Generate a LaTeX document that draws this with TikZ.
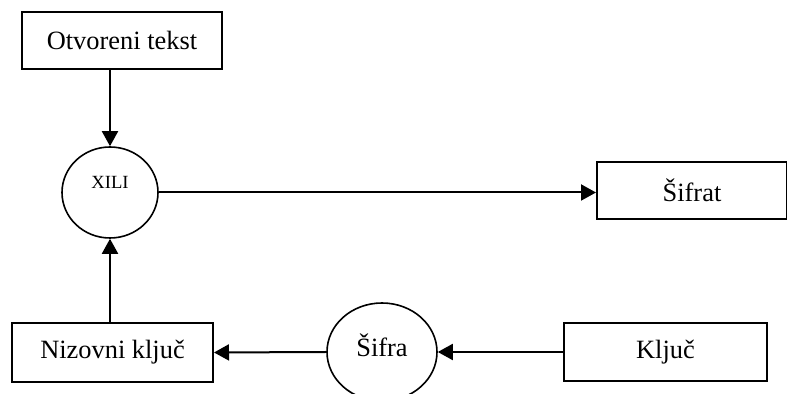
\documentclass[tikz,border=0pt]{standalone}
\usepackage{fontspec}
\setmainfont{Liberation Serif}
\usepackage{tikz}
\usetikzlibrary{arrows.meta,shapes,positioning}
\tikzstyle{arrow} = [line width=1pt,-{Triangle[length=7.5pt,width=8pt]}]
\tikzstyle{boxnode} = [rectangle, draw, line width=1pt, minimum height=28.5pt, text centered, font=\fontsize{13.2}{15}\selectfont]
\tikzstyle{opnode} = [ellipse, draw, line width=0.8pt, inner sep=0pt, text centered]

\begin{document}
\begin{tikzpicture}[x=0.5pt,y=-0.5pt]
\useasboundingbox (0,0) rectangle (787,394);
% Boxes
\node (otvoreni) [boxnode, minimum width=100pt] at (122,40.5) {Otvoreni tekst\hspace{4pt}};
\node (sifrat) [boxnode, minimum width=95pt] at (692,190.5) {Šifrat};
\node (kljuc) [boxnode, minimum width=101.5pt, minimum height=29pt] at (665.5,352) {Ključ};
\node (nizovni) [boxnode, minimum width=100.5pt, minimum height=29.5pt] at (112.5,352.5) {Nizovni ključ};

% Circles
\node (xili) [opnode, minimum width=48pt, minimum height=45.5pt, font=\fontsize{9.3}{11}\selectfont, text height=7pt, text depth=11pt] at (110,192.5) {XILI};
\node (sifra) [opnode, minimum width=55pt, minimum height=49pt, font=\fontsize{13.2}{15}\selectfont, text height=9pt, text depth=4pt] at (382,352) {Šifra};

% Arrows
\draw[arrow] (otvoreni.south -| xili.north) -- (xili.north);
\draw[arrow] (xili.east) -- (xili.east -| sifrat.west);
\draw[arrow] (kljuc.west) -- (sifra.east);
\draw[arrow] (sifra.west) -- (nizovni.east);
\draw[arrow] (nizovni.north -| xili.south) -- (xili.south);
\end{tikzpicture}
\end{document}
